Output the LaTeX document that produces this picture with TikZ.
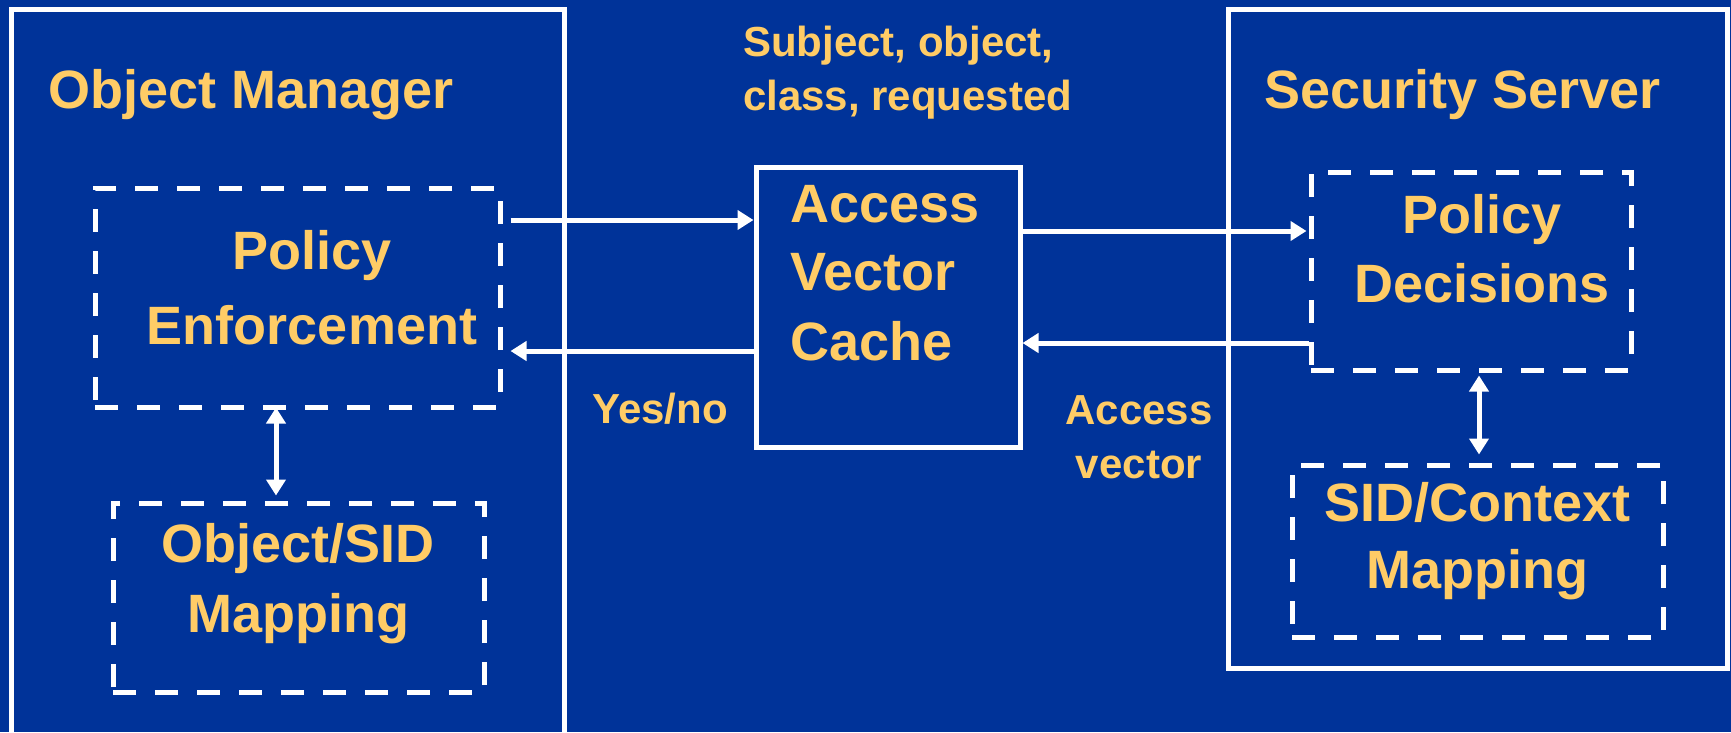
\documentclass[tikz,border=0pt]{standalone}
\usepackage{fontspec}
\setmainfont{Liberation Sans}
\usetikzlibrary{arrows.meta,calc}
\definecolor{bg}{HTML}{003399}
\definecolor{txt}{HTML}{FFCC66}
\begin{document}
\begin{tikzpicture}[x=1pt,y=-1pt,
  big/.style={text=txt,font=\fontsize{54}{60}\selectfont\bfseries,inner sep=0pt},
  small/.style={text=txt,font=\fontsize{42}{48}\selectfont\bfseries,inner sep=0pt},
  solidbox/.style={draw=white,line width=5pt,rectangle,inner sep=0pt},
  dashbox/.style={draw=white,line width=5pt,dash pattern=on 23pt off 19pt,rectangle,inner sep=0pt},
  arr/.style={draw=white,line width=5pt,-{Triangle[length=16pt,width=19pt]}},
  darr/.style={draw=white,line width=5pt,{Triangle[length=16pt,width=19pt]}-{Triangle[length=16pt,width=19pt]}}]
\useasboundingbox (0,0) rectangle (1731,732);
\fill[bg] (0,0) rectangle (1731,732);
\clip (0,0) rectangle (1731,732);
% outer containers
\draw[white,line width=5pt] (11,745) -- (11,9) -- (564,9) -- (564,745);
\node[solidbox,minimum width=499pt,minimum height=659pt] (ss) at (1477.5,338.5) {};
% inner boxes
\node[dashbox,minimum width=405pt,minimum height=219pt] (pe) at (297.5,297.5) {};
\node[dashbox,minimum width=371pt,minimum height=189pt] (osm) at (298.5,597.5) {};
\node[solidbox,minimum width=264pt,minimum height=280pt] (avc) at (888,307) {};
\node[dashbox,minimum width=320pt,minimum height=198pt] (pd) at (1471,271) {};
\node[dashbox,minimum width=371pt,minimum height=172pt] (scm) at (1477.5,551) {};
% texts
\node[big,anchor=base west] (omt) at (48,108) {Object Manager};
\node[big,anchor=base west] (sst) at (1264,108) {Security Server};
\node[small,anchor=base west] (rq1) at (743,56) {Subject, object,};
\node[small,anchor=base west] (rq2) at (743,110) {class, requested};
\node[big,anchor=base] (pe1) at (312,269) {Policy};
\node[big,anchor=base] (pe2) at (312,344) {Enforcement};
\node[big,anchor=base] (os1) at (298,562) {Object/SID};
\node[big,anchor=base] (os2) at (298,632) {Mapping};
\node[big,anchor=base west] (av1) at (790,222) {Access};
\node[big,anchor=base west] (av2) at (790,290) {Vector};
\node[big,anchor=base west] (av3) at (790,360) {Cache};
\node[big,anchor=base] (pd1) at (1482,233) {Policy};
\node[big,anchor=base] (pd2) at (1482,302) {Decisions};
\node[big,anchor=base] (sc1) at (1477.5,521) {SID/Context};
\node[big,anchor=base] (sc2) at (1477.5,588) {Mapping};
\node[small,anchor=base] (yn) at (660,423) {Yes/no};
\node[small,anchor=base] (ac1) at (1139,424) {Access};
\node[small,anchor=base] (ac2) at (1139,478) {vector};
% connectors
\coordinate (p1) at ($(pe.east)+(8,-77.5)$);
\draw[arr] (p1) -- (p1 -| avc.west);
\coordinate (p2) at ($(avc.west)+(0,44)$);
\draw[arr] (p2) -- (p2 -| p1);
\coordinate (p3) at ($(avc.east)+(0,-76)$);
\draw[arr,shorten >=2pt] (p3) -- (p3 -| pd.west);
\coordinate (p4) at ($(pd.west)+(0,72)$);
\draw[arr] (p4) -- (p4 -| avc.east);
\draw[darr] ($(pe.south)+(-21.5,-2)$) -- ($(osm.north)+(-22.5,-5)$);
\draw[darr] ($(pd.south)+(8,3)$) -- ($(scm.north)+(1.5,-8)$);
\end{tikzpicture}
\end{document}
